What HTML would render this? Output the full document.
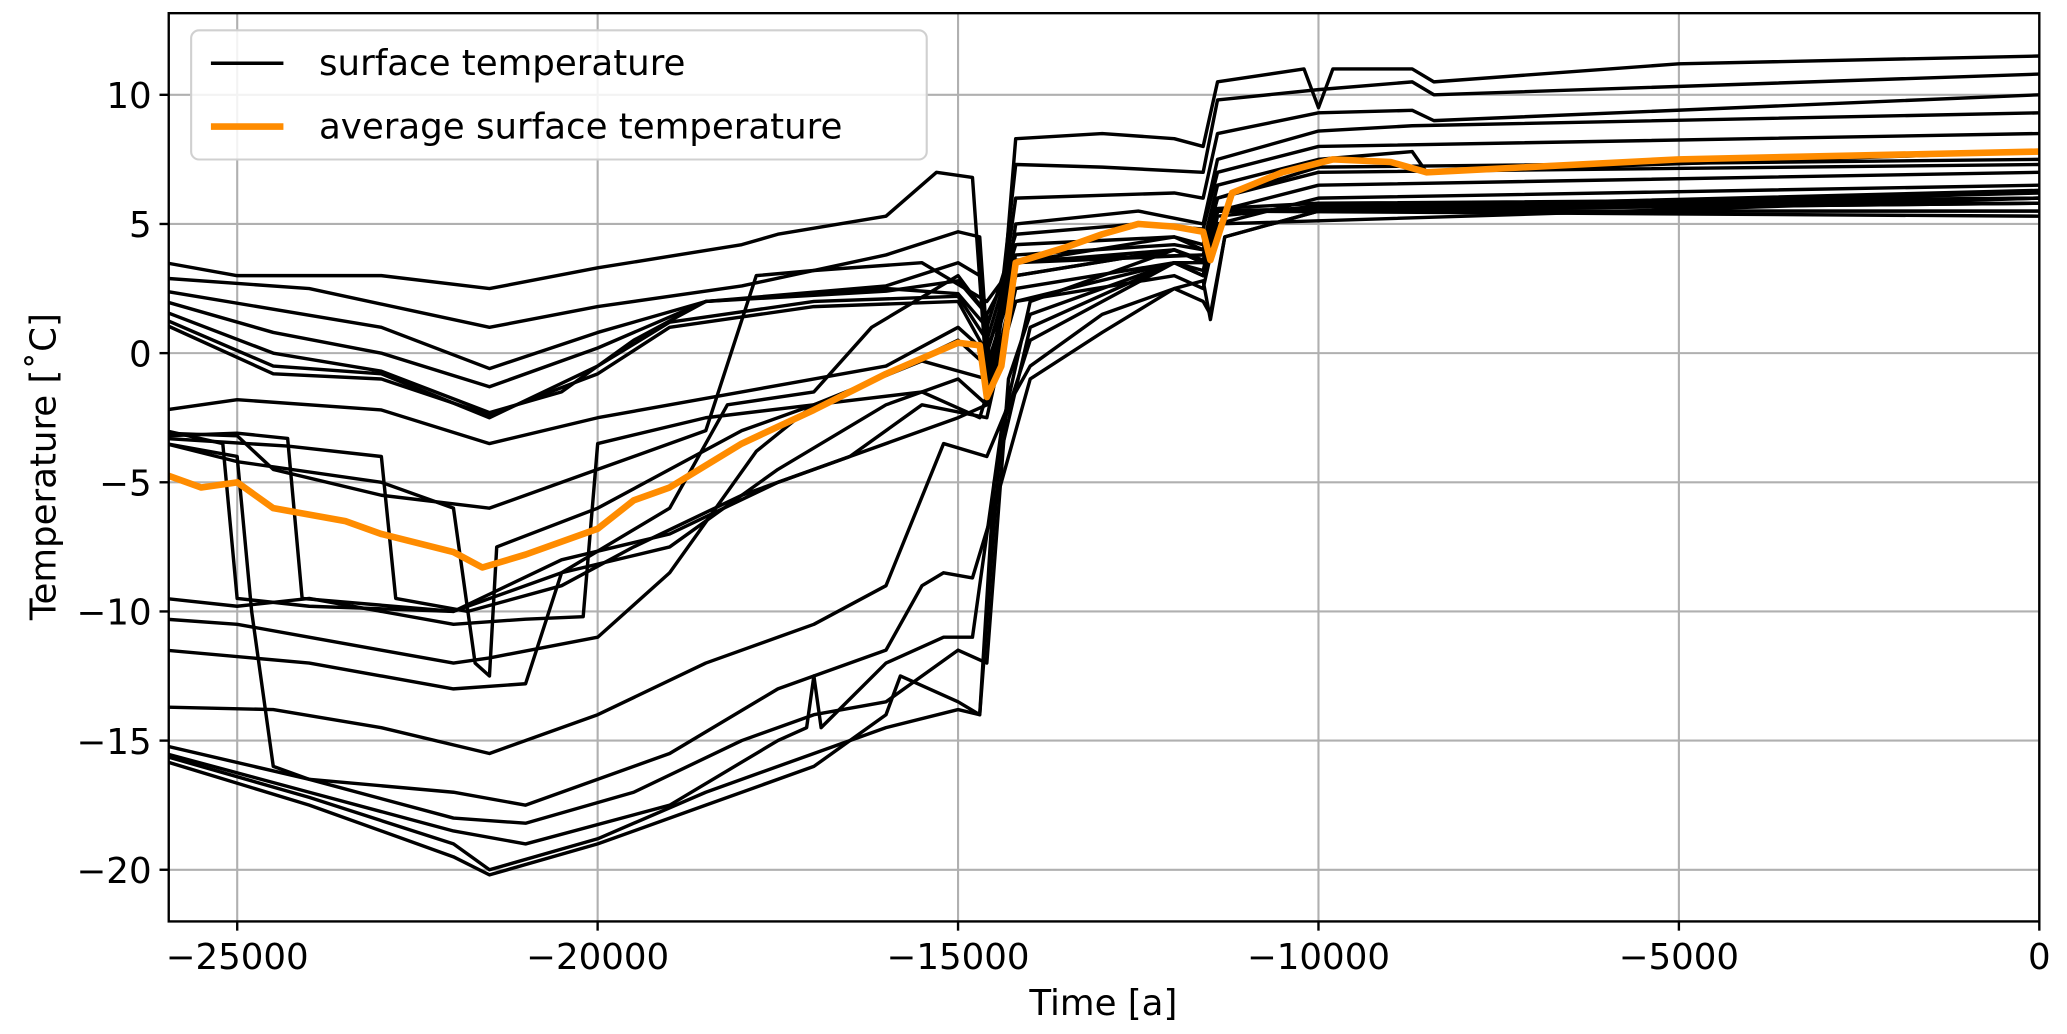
<!DOCTYPE html>
<html><head><meta charset="utf-8"><style>
body{margin:0;background:#fff;}
svg{display:block;font-family:"DejaVu Sans","Liberation Sans",sans-serif;}
</style></head><body>
<svg id="chart" width="2067" height="1034" viewBox="0 0 1568 784.4" preserveAspectRatio="none"></svg>
<script>
const xDomain=[-25950,0];
const yDomain=[-22,13.16];
const xTicks=[-25000,-20000,-15000,-10000,-5000,0];
const yTicks=[-20,-15,-10,-5,0,5,10];
const L1=[[-26000,3.5],[-25000,3.0],[-23000,3.0],[-21500,2.5],[-20000,3.3],[-18000,4.2],[-17500,4.6],[-16000,5.3],[-15300,7.0],[-14800,6.8],[-14600,-1.0],[-14400,1.5],[-14200,8.3],[-13000,8.5],[-12000,8.3],[-11600,8.0],[-11400,10.5],[-10200,11],[-10000,9.5],[-9800,11],[-8700,11],[-8400,10.5],[-5000,11.2],[0,11.5]];
const L2=[[-26000,2.9],[-24000,2.5],[-21500,1.0],[-20000,1.8],[-18000,2.6],[-16000,3.8],[-15000,4.7],[-14700,4.5],[-14550,-1.5],[-14200,7.3],[-13000,7.2],[-11600,7.0],[-11400,9.8],[-10000,10.2],[-8700,10.5],[-8400,10],[0,10.8]];
const L3=[[-26000,2.4],[-23000,1.0],[-21500,-0.6],[-20000,0.8],[-18500,2.0],[-16000,2.6],[-15000,3.5],[-14700,3.0],[-14550,-1.0],[-14200,6],[-12000,6.2],[-11600,6],[-11400,8.5],[-10000,9.3],[-8700,9.4],[-8400,9],[0,10]];
const L4=[[-26000,2.0],[-24500,0.8],[-23000,0],[-21500,-1.3],[-20000,0.2],[-18500,2],[-16000,2.4],[-15000,2.8],[-14600,1.5],[-14550,-1.5],[-14200,5],[-12500,5.5],[-11600,5],[-11400,7.5],[-10000,8.6],[-8700,8.8],[0,9.3]];
const L5=[[-26000,1.6],[-24500,0],[-23000,-0.7],[-21500,-2.3],[-20500,-1.5],[-19500,0.5],[-18500,2],[-16000,2.5],[-15000,2.3],[-14600,1],[-14200,4.6],[-12500,5],[-11600,4.8],[-11400,7],[-10000,8],[0,8.5]];
const L6=[[-26000,1.3],[-24500,-0.5],[-23000,-0.8],[-21500,-2.5],[-20000,-0.5],[-19000,1.2],[-17000,2],[-15000,2.2],[-14600,0.5],[-14200,4.2],[-12000,4.5],[-11600,4.2],[-11400,6.5],[-10000,7.5],[-8700,7.8],[-8500,7],[0,7.8]];
const L7=[[-26000,1.1],[-24500,-0.8],[-23000,-1.0],[-21500,-2.4],[-20000,-0.8],[-19000,1],[-17000,1.8],[-15000,2.0],[-14600,0],[-14200,3.8],[-12000,4.2],[-11600,4],[-11400,6],[-10000,7],[0,7.3]];
const L8=[[-26000,-2.2],[-25000,-1.8],[-23000,-2.2],[-21500,-3.5],[-20000,-2.5],[-18000,-1.5],[-16000,-0.5],[-15000,1],[-14600,0],[-14200,3.5],[-12000,4.5],[-11600,4],[-11400,6],[-10000,7.2],[0,7.5]];
const L9=[[-26000,-3],[-25200,-3.5],[-25000,-9.5],[-24000,-9.8],[-22000,-10],[-20500,-8],[-19000,-7],[-17500,-5],[-16500,-4],[-15000,-2.5],[-14600,-2],[-14200,2],[-12000,3],[-11600,2.5],[-11400,5],[-10000,6],[0,6.5]];
const L10=[[-26000,-3.1],[-25000,-3.2],[-24500,-4.5],[-23000,-5.5],[-21500,-6],[-20000,-4.5],[-18500,-3],[-17800,3],[-17000,3.2],[-15500,3.5],[-14600,2],[-14200,3.5],[-12000,4],[-11600,3.5],[-11400,5.5],[-10000,6.5],[0,7]];
const L11=[[-26000,-3.2],[-25000,-3.1],[-24300,-3.3],[-24100,-9.5],[-22000,-10],[-20500,-8.5],[-19000,-6],[-18200,-2],[-17000,-1.5],[-16200,1],[-15000,3],[-14600,1.5],[-14200,3.6],[-11600,3.8],[-11400,5.6],[-10000,5.8],[0,6]];
const L12=[[-26000,-3.3],[-24300,-3.6],[-23000,-4],[-22800,-9.5],[-21800,-10],[-20500,-9],[-19500,-7.5],[-18000,-5.5],[-16500,-4],[-15500,-2],[-14600,-2.5],[-14200,2.5],[-12000,3.5],[-11600,3],[-11400,5.3],[-10000,5.7],[0,5.8]];
const L13=[[-26000,-3.5],[-25000,-4.2],[-23000,-5],[-22000,-6],[-21700,-12],[-21500,-12.5],[-21400,-7.5],[-20000,-6],[-18000,-3],[-16500,-1.5],[-15000,0.5],[-14600,-0.5],[-14200,3],[-12000,4],[-11600,3.5],[-11400,5.5],[-10000,5.5],[0,5.5]];
const L14=[[-26000,-10.3],[-25000,-10.5],[-23000,-11.5],[-22000,-12],[-21500,-11.8],[-20000,-11],[-19000,-8.5],[-17800,-3.8],[-17000,-2],[-15500,-0.3],[-14600,-1],[-14200,3.5],[-11600,3.8],[-11400,5.5],[0,5.8]];
const L15=[[-26000,-11.5],[-24000,-12],[-22000,-13],[-21000,-12.8],[-20500,-8.5],[-19000,-7.5],[-17500,-4.5],[-16000,-2],[-15000,-1],[-14600,-2],[-14200,3],[-12000,4],[-11600,3.6],[-11400,5.5],[0,6]];
const L16=[[-26000,-9.5],[-25000,-9.8],[-24000,-9.5],[-22000,-10.5],[-21000,-10.3],[-20200,-10.2],[-20000,-3.5],[-18500,-2.5],[-17000,-2],[-15500,-1.5],[-14700,-2.5],[-14200,2],[-12000,3.5],[-11600,3],[-11400,5.5],[0,6.3]];
const L17=[[-26000,-13.7],[-24500,-13.8],[-23000,-14.5],[-21500,-15.5],[-20000,-14],[-18500,-12],[-17000,-10.5],[-16000,-9],[-15200,-3.5],[-14600,-4],[-14300,-2],[-14000,-0.5],[-13000,1.5],[-12000,2.5],[-11600,2],[-11500,1.5],[-11300,4.5],[-10000,5.5],[0,6]];
const L18=[[-26000,-15.2],[-24000,-16.5],[-22000,-17],[-21000,-17.5],[-19000,-15.5],[-17500,-13],[-16000,-11.5],[-15500,-9],[-15200,-8.5],[-14800,-8.7],[-14400,-5],[-14000,-1],[-13000,0.8],[-12000,2.5],[-11600,2.8],[-11500,1.3],[-11300,4.5],[-10000,5.5],[0,6.2]];
const L19=[[-26000,-15.5],[-24000,-17],[-22000,-18.5],[-21000,-19],[-19000,-17.5],[-17500,-15],[-17100,-14.5],[-17000,-12.5],[-16900,-14.5],[-16000,-12],[-15200,-11],[-14800,-11],[-14400,-3],[-14000,0.5],[-12000,3.5],[-11600,3.5],[-11400,5],[0,6]];
const L20=[[-26000,-15.8],[-24000,-17.5],[-22000,-19.5],[-21500,-20.2],[-20000,-19],[-18500,-17.5],[-17000,-16],[-16000,-14],[-15800,-12.5],[-15000,-13.5],[-14700,-14],[-14500,-5],[-14000,1],[-12000,3.5],[-11600,3.2],[-11400,5.5],[0,5.5]];
const L21=[[-26000,-15.6],[-24000,-17.2],[-22000,-19],[-21500,-20],[-20000,-18.8],[-18500,-17],[-17000,-15.5],[-16000,-14.5],[-15000,-13.8],[-14700,-14],[-14400,-3],[-14000,2],[-12000,4],[-11600,3.5],[-11400,5.5],[0,5.3]];
const L22=[[-26000,-3.5],[-25000,-4],[-24800,-10],[-24500,-16],[-24000,-16.5],[-22000,-18],[-21000,-18.2],[-19500,-17],[-18000,-15],[-17000,-14],[-16000,-13.5],[-15000,-11.5],[-14600,-12],[-14300,-1],[-14000,1.5],[-12000,3.5],[-11600,3],[-11400,5.5],[0,5.8]];
const AVG=[[-26000,-4.7],[-25500,-5.2],[-25000,-5.0],[-24500,-6],[-23500,-6.5],[-23000,-7],[-22000,-7.7],[-21600,-8.3],[-21000,-7.8],[-20000,-6.8],[-19500,-5.7],[-19000,-5.2],[-18000,-3.5],[-17000,-2.2],[-16000,-0.8],[-15000,0.4],[-14700,0.3],[-14600,-1.7],[-14400,-0.5],[-14200,3.5],[-13500,4.1],[-13000,4.6],[-12500,5],[-12000,4.9],[-11600,4.7],[-11500,3.6],[-11200,6.2],[-10500,7],[-9800,7.5],[-9000,7.4],[-8500,7.0],[-5000,7.5],[0,7.8]];
const SERIES=[L1,L2,L3,L4,L5,L6,L7,L8,L9,L10,L11,L12,L13,L14,L15,L16,L17,L18,L19,L20,L21,L22];

const PL=128,PR=1547,PT=10,PB=699;
const NS="http://www.w3.org/2000/svg";
const svg=document.getElementById('chart');
function sx(t){return PL+(t-xDomain[0])/(xDomain[1]-xDomain[0])*(PR-PL);}
function sy(v){return PB-(v-yDomain[0])/(yDomain[1]-yDomain[0])*(PB-PT);}
function mk(tag,attrs,parent){const e=document.createElementNS(NS,tag);for(const k in attrs)e.setAttribute(k,attrs[k]);(parent||svg).appendChild(e);return e;}
const defs=mk('defs',{});
const cp=mk('clipPath',{id:'clip'},defs);
mk('rect',{x:PL,y:PT,width:PR-PL,height:PB-PT},cp);
const grid=mk('g',{});


xTicks.forEach(t=>{const l=mk('line',{x1:sx(t),x2:sx(t),y1:PT,y2:PB,stroke:'#b0b0b0','stroke-width':1.6},grid);

});
yTicks.forEach(v=>{const l=mk('line',{x1:PL,x2:PR,y1:sy(v),y2:sy(v),stroke:'#b0b0b0','stroke-width':1.6},grid);

});
const lines=mk('g',{'clip-path':'url(#clip)'});


function pathOf(s){return s.map((p,i)=>(i?'L':'M')+sx(p[0]).toFixed(1)+' '+sy(p[1]).toFixed(1)).join(' ');}
SERIES.forEach((s,i)=>{const p=mk('path',{d:pathOf(s),fill:'none',stroke:'#000','stroke-width':2.6,'stroke-linejoin':'round'},lines);

});
const avg=mk('path',{d:pathOf(AVG),fill:'none',stroke:'#ff8c00','stroke-width':5,'stroke-linejoin':'round'},lines);


const frame=mk('rect',{x:PL,y:PT,width:PR-PL,height:PB-PT,fill:'none',stroke:'#000','stroke-width':1.8});


xTicks.forEach(t=>{mk('line',{x1:sx(t),x2:sx(t),y1:PB,y2:PB+7,stroke:'#000','stroke-width':1.8});
const tx=mk('text',{x:sx(t),y:PB+36,'text-anchor':'middle','font-size':27});tx.textContent=String(t).replace('-','\u2212');

});
yTicks.forEach(v=>{mk('line',{x1:PL-7,x2:PL,y1:sy(v),y2:sy(v),stroke:'#000','stroke-width':1.8});
const tx=mk('text',{x:PL-13,y:sy(v)+10,'text-anchor':'end','font-size':27});tx.textContent=String(v).replace('-','\u2212');

});
const xt=mk('text',{x:837,y:770,'text-anchor':'middle','font-size':27});xt.textContent='Time [a]';


const yt=mk('text',{x:0,y:0,'text-anchor':'middle','font-size':27,transform:'translate(42,354) rotate(-90)'});yt.textContent='Temperature [\u02DAC]';


const lg=mk('g',{});


mk('rect',{x:145,y:23,width:558,height:98,rx:6,fill:'#fff','fill-opacity':0.85,stroke:'#d0d0d0','stroke-width':1.6},lg);
const e1=mk('g',{},lg);


mk('line',{x1:160,x2:215,y1:48,y2:48,stroke:'#000','stroke-width':2.6},e1);
const t1=mk('text',{x:242,y:57,'font-size':27},e1);t1.textContent='surface temperature';
const e2=mk('g',{},lg);


mk('line',{x1:160,x2:215,y1:96,y2:96,stroke:'#ff8c00','stroke-width':5},e2);
const t2=mk('text',{x:242,y:105,'font-size':27},e2);t2.textContent='average surface temperature';
</script>
</body></html>
